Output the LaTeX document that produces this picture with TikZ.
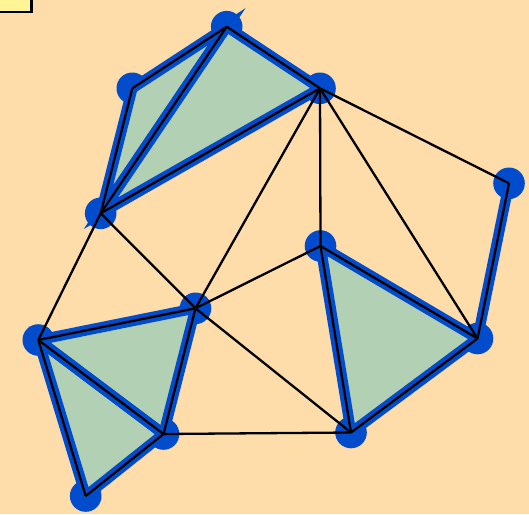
\documentclass[tikz,border=0pt]{standalone}
\definecolor{bg}{RGB}{254,221,170}
\definecolor{vblue}{RGB}{0,76,204}
\definecolor{tgreen}{RGB}{178,208,180}
\definecolor{boxyellow}{RGB}{255,245,150}
\tikzset{
  vertexdot/.style={fill=vblue},
  facefill/.style={fill=tgreen},
  faceedge/.style={draw=vblue, line width=10.5pt, miter limit=10},
  meshline/.style={draw=black, line width=2.3pt},
}
\begin{document}
\begin{tikzpicture}[x=1pt,y=-1pt]
\useasboundingbox (0,0) rectangle (529,514);
\fill[bg] (0,0) rectangle (529,514);
\draw[fill=boxyellow, line width=2.8pt] (-10,-10) rectangle (31.5,12);
% vertices
\coordinate (A) at (226.7,26.7);
\coordinate (B) at (132.3,88.3);
\coordinate (C) at (320,88.3);
\coordinate (D) at (100.7,213.3);
\coordinate (E) at (509,183.3);
\coordinate (F) at (320.5,246);
\coordinate (G) at (195.5,308.3);
\coordinate (H) at (38.3,340);
\coordinate (I) at (163.5,434);
\coordinate (J) at (85.7,496);
\coordinate (K) at (351,432.5);
\coordinate (L) at (477.5,338.5);
% vertex discs
\foreach \v in {A,B,C,D,E,F,G,H,I,J,K,L}
  \fill[vertexdot] (\v) circle (15.8);
% green faces
\fill[facefill] (A) -- (B) -- (D) -- cycle;
\fill[facefill] (A) -- (C) -- (D) -- cycle;
\fill[facefill] (H) -- (G) -- (I) -- cycle;
\fill[facefill] (H) -- (I) -- (J) -- cycle;
\fill[facefill] (F) -- (K) -- (L) -- cycle;
% blue outlines
\draw[faceedge] (D) -- (A) -- (B) -- (D);
\draw[faceedge] (A) -- (D) -- (C) -- (A);
\draw[faceedge] (H) -- (G) -- (I) -- cycle;
\draw[faceedge] (H) -- (I) -- (J) -- cycle;
\draw[faceedge] (F) -- (K) -- (L) -- cycle;
\draw[faceedge] (E) -- (L);
% mesh edges
\draw[meshline] (A) -- (B);
\draw[meshline] (A) -- (C);
\draw[meshline] (A) -- (D);
\draw[meshline] (B) -- (D);
\draw[meshline] (C) -- (D);
\draw[meshline] (C) -- (G);
\draw[meshline] (C) -- (F);
\draw[meshline] (C) -- (E);
\draw[meshline] (C) -- (L);
\draw[meshline] (D) -- (H);
\draw[meshline] (D) -- (G);
\draw[meshline] (E) -- (L);
\draw[meshline] (F) -- (G);
\draw[meshline] (F) -- (K);
\draw[meshline] (F) -- (L);
\draw[meshline] (G) -- (H);
\draw[meshline] (G) -- (I);
\draw[meshline] (G) -- (K);
\draw[meshline] (H) -- (I);
\draw[meshline] (H) -- (J);
\draw[meshline] (I) -- (J);
\draw[meshline] (I) -- (K);
\draw[meshline] (K) -- (L);
\end{tikzpicture}
\end{document}
